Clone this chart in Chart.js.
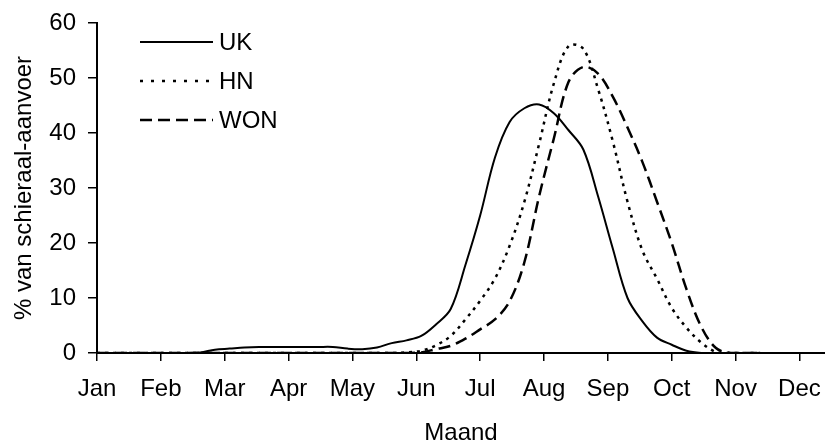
<!DOCTYPE html>
<html>
<head>
<meta charset="utf-8">
<script src="https://cdn.jsdelivr.net/npm/chart.js@4"></script>
<style>
  html, body { margin: 0; padding: 0; background: #fff; }
  #wrap { width: 825px; height: 444px; }
</style>
</head>
<body>
<div id="wrap"><canvas id="chart-canvas"></canvas></div>
<script>
// weeks since 1 Jan
var weeks = [];
for (var w = 0; w <= 45; w++) weeks.push(w);

var monthLabels = ['Jan', 'Feb', 'Mar', 'Apr', 'May', 'Jun', 'Jul', 'Aug', 'Sep', 'Oct', 'Nov', 'Dec'];

// % van schieraal-aanvoer per week
var ukValues = [0, 0, 0, 0, 0, 0, 0, 0.1, 0.6, 0.8, 1.0, 1.1, 1.1, 1.1, 1.1, 1.1, 1.1, 0.8, 0.7, 1.0,
    1.8, 2.3, 3.1, 5.2, 8.0, 16, 25, 35.5, 42, 44.5, 45.2, 43.6, 40.5, 37, 28.5, 19, 10, 5.8, 2.8, 1.5,
    0.4, 0, 0, 0, 0, 0];
var hnValues = [0, 0, 0, 0, 0, 0, 0, 0, 0, 0, 0, 0, 0, 0, 0, 0, 0, 0, 0, 0,
    0, 0.1, 0.4, 1.4, 3.1, 6.1, 9.5, 13.5, 19.5, 27.5, 38, 49, 55.8, 55.3, 48, 38.5, 27.5, 18.7, 13.5, 8.2,
    4.6, 1.9, 0.2, 0, 0, 0];
var wonValues = [0, 0, 0, 0, 0, 0, 0, 0, 0, 0, 0, 0, 0, 0, 0, 0, 0, 0, 0, 0,
    0, 0, 0.1, 0.7, 1.3, 2.6, 4.3, 6.1, 9.4, 16.5, 28.5, 39, 49.3, 52, 50.8, 46.6, 41, 34.8, 27.5, 20,
    11.6, 4.8, 0.9, 0, 0, 0];

var yTicks = [0, 10, 20, 30, 40, 50, 60];

function toPoints(values) {
    return weeks.map(function (w, i) { return { x: w, y: values[i] }; });
}

Chart.defaults.font.family = '"Liberation Sans", Arial, sans-serif';
Chart.defaults.color = '#000';

// legend drawn inside the plot, top left, like the original
var innerLegend = {
    id: 'innerLegend',
    afterDraw: function (chart) {
        var ctx = chart.ctx;
        var area = chart.chartArea;
        ctx.save();
        chart.data.datasets.forEach(function (ds, i) {
            var y = area.top + 19 + i * 39;
            var x0 = area.left + 43;
            var x1 = area.left + 116;
            ctx.strokeStyle = ds.borderColor;
            ctx.lineWidth = ds.borderWidth;
            ctx.setLineDash(ds.legendDash || ds.borderDash || []);
            ctx.beginPath();
            ctx.moveTo(x0, y);
            ctx.lineTo(x1, y);
            ctx.stroke();
            ctx.setLineDash([]);
            ctx.fillStyle = '#000';
            ctx.font = '24px "Liberation Sans", Arial, sans-serif';
            ctx.textBaseline = 'middle';
            ctx.fillText(ds.label, x1 + 6, y + 1);
        });
        ctx.restore();
    }
};

var ctx = document.getElementById('chart-canvas');

new Chart(ctx, {
    type: 'line',
    data: {
        datasets: [{
            label: 'UK',
            data: toPoints(ukValues),
            borderColor: '#000',
            borderWidth: 2,
            borderDash: [],
        }, {
            label: 'HN',
            data: toPoints(hnValues),
            borderColor: '#000',
            borderWidth: 2.5,
            borderDash: [3, 5],
            legendDash: [3, 8],
        }, {
            label: 'WON',
            data: toPoints(wonValues),
            borderColor: '#000',
            borderWidth: 2.5,
            borderDash: [12, 6],
        }]
    },
    options: {
        responsive: true,
        maintainAspectRatio: false,
        animation: false,
        elements: {
            point: { radius: 0 },
            line: { tension: 0.35, fill: false }
        },
        layout: { padding: { top: 23, right: 0, left: 0, bottom: 0 } },
        plugins: {
            legend: { display: false },
            tooltip: { enabled: false }
        },
        scales: {
            x: {
                type: 'linear',
                min: 0,
                max: 49.4,
                afterBuildTicks: function (scale) {
                    scale.ticks = monthLabels.map(function (m, i) { return { value: i * 52 / 12 }; });
                },
                afterFit: function (scale) {
                    scale.height = 91;
                    scale.paddingLeft = 0;
                    scale.paddingRight = 0;
                },
                ticks: {
                    autoSkip: false,
                    maxRotation: 0,
                    padding: 14,
                    font: { size: 24 },
                    callback: function (value, index) { return monthLabels[index]; }
                },
                grid: {
                    drawOnChartArea: false,
                    drawTicks: true,
                    tickLength: 8,
                    color: '#000',
                    lineWidth: 1.5
                },
                border: { display: true, color: '#000', width: 2 },
                title: {
                    display: true,
                    text: 'Maand',
                    font: { size: 24 },
                    padding: { top: 11, bottom: -4 }
                }
            },
            y: {
                min: 0,
                max: 60,
                afterBuildTicks: function (scale) {
                    scale.ticks = yTicks.map(function (v) { return { value: v }; });
                },
                afterFit: function (scale) {
                    scale.width = 97;
                    scale.paddingTop = 0;
                    scale.paddingBottom = 0;
                },
                ticks: {
                    padding: 12,
                    font: { size: 24 }
                },
                grid: {
                    drawOnChartArea: false,
                    drawTicks: true,
                    tickLength: 9,
                    color: '#000',
                    lineWidth: 1.5
                },
                border: { display: true, color: '#000', width: 2 },
                title: {
                    display: true,
                    text: '% van schieraal-aanvoer',
                    font: { size: 24 },
                    padding: { top: 10, bottom: 4 }
                }
            }
        }
    },
    plugins: [innerLegend]
});
</script>
</body>
</html>
